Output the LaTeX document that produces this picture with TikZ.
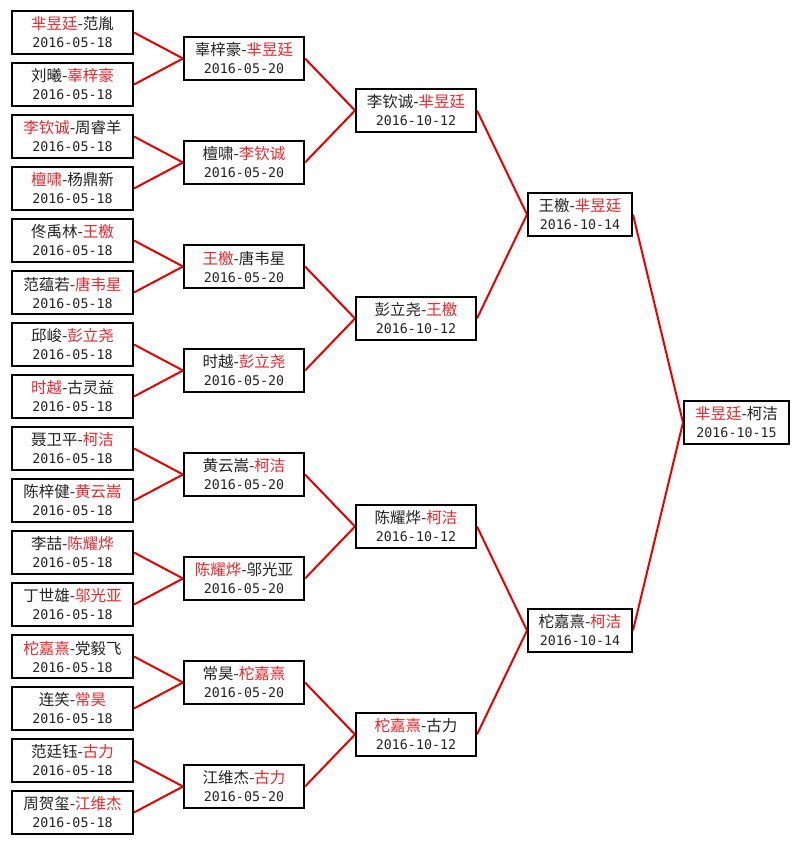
\documentclass[tikz,border=0pt]{standalone}
\usepackage{fontspec}
\setmainfont{Noto Sans CJK SC}
\newfontfamily\datefont{DejaVu Sans Mono}
\usetikzlibrary{backgrounds}
\definecolor{win}{RGB}{228,40,44}
\definecolor{ink}{RGB}{35,35,35}
\definecolor{conn}{RGB}{232,0,0}
\newcommand{\w}[1]{\textcolor{win}{#1}}
\newcommand{\dd}[1]{{\datefont\fontsize{13.3}{18}\selectfont #1}}
\begin{document}
\begin{tikzpicture}[x=1pt,y=-1pt,
  match/.style={draw=black, line width=2pt, fill=white, inner sep=0pt,
    minimum height=43pt, align=center, text=ink,
    font=\fontsize{15.5}{18}\selectfont},
  ca/.style={match, minimum width=121pt},
  cb/.style={match, minimum width=120pt},
  cc/.style={match, minimum width=120pt},
  cd/.style={match, minimum width=104pt},
  ce/.style={match, minimum width=105pt},
  link/.style={draw=conn, line width=2pt}]
\useasboundingbox (0,0) rectangle (800,845);
% round 1
\node[ca] (a1)  at (72.5, 32.5) {\w{芈昱廷}-范胤\\\dd{2016-05-18}};
\node[ca] (a2)  at (72.5, 84.5) {刘曦-\w{辜梓豪}\\\dd{2016-05-18}};
\node[ca] (a3)  at (72.5,136.5) {\w{李钦诚}-周睿羊\\\dd{2016-05-18}};
\node[ca] (a4)  at (72.5,188.5) {\w{檀啸}-杨鼎新\\\dd{2016-05-18}};
\node[ca] (a5)  at (72.5,240.5) {佟禹林-\w{王檄}\\\dd{2016-05-18}};
\node[ca] (a6)  at (72.5,292.5) {范蕴若-\w{唐韦星}\\\dd{2016-05-18}};
\node[ca] (a7)  at (72.5,344.5) {邱峻-\w{彭立尧}\\\dd{2016-05-18}};
\node[ca] (a8)  at (72.5,396.5) {\w{时越}-古灵益\\\dd{2016-05-18}};
\node[ca] (a9)  at (72.5,448.5) {聂卫平-\w{柯洁}\\\dd{2016-05-18}};
\node[ca] (a10) at (72.5,500.5) {陈梓健-\w{黄云嵩}\\\dd{2016-05-18}};
\node[ca] (a11) at (72.5,552.5) {李喆-\w{陈耀烨}\\\dd{2016-05-18}};
\node[ca] (a12) at (72.5,604.5) {丁世雄-\w{邬光亚}\\\dd{2016-05-18}};
\node[ca] (a13) at (72.5,656.5) {\w{柁嘉熹}-党毅飞\\\dd{2016-05-18}};
\node[ca] (a14) at (72.5,708.5) {连笑-\w{常昊}\\\dd{2016-05-18}};
\node[ca] (a15) at (72.5,760.5) {范廷钰-\w{古力}\\\dd{2016-05-18}};
\node[ca] (a16) at (72.5,812.5) {周贺玺-\w{江维杰}\\\dd{2016-05-18}};
% round 2
\node[cb] (b1) at (244, 58.5) {辜梓豪-\w{芈昱廷}\\\dd{2016-05-20}};
\node[cb] (b2) at (244,162.5) {檀啸-\w{李钦诚}\\\dd{2016-05-20}};
\node[cb] (b3) at (244,266.5) {\w{王檄}-唐韦星\\\dd{2016-05-20}};
\node[cb] (b4) at (244,370.5) {时越-\w{彭立尧}\\\dd{2016-05-20}};
\node[cb] (b5) at (244,474.5) {黄云嵩-\w{柯洁}\\\dd{2016-05-20}};
\node[cb] (b6) at (244,578.5) {\w{陈耀烨}-邬光亚\\\dd{2016-05-20}};
\node[cb] (b7) at (244,682.5) {常昊-\w{柁嘉熹}\\\dd{2016-05-20}};
\node[cb] (b8) at (244,786.5) {江维杰-\w{古力}\\\dd{2016-05-20}};
% round 3
\node[cc] (c1) at (416,110.5) {李钦诚-\w{芈昱廷}\\\dd{2016-10-12}};
\node[cc] (c2) at (416,318.5) {彭立尧-\w{王檄}\\\dd{2016-10-12}};
\node[cc] (c3) at (416,526.5) {陈耀烨-\w{柯洁}\\\dd{2016-10-12}};
\node[cc] (c4) at (416,734.5) {\w{柁嘉熹}-古力\\\dd{2016-10-12}};
% semifinal
\node[cd] (d1) at (580,214.5) {王檄-\w{芈昱廷}\\\dd{2016-10-14}};
\node[cd] (d2) at (580,630.5) {柁嘉熹-\w{柯洁}\\\dd{2016-10-14}};
% final
\node[ce] (e1) at (736.5,422.5) {\w{芈昱廷}-柯洁\\\dd{2016-10-15}};
\begin{scope}[on background layer]
\foreach \i/\p in {1/1,2/1,3/2,4/2,5/3,6/3,7/4,8/4,9/5,10/5,11/6,12/6,13/7,14/7,15/8,16/8}
  \draw[link] (a\i.east) -- (b\p.west);
\foreach \i/\p in {1/1,2/1,3/2,4/2,5/3,6/3,7/4,8/4}
  \draw[link] (b\i.east) -- (c\p.west);
\foreach \i/\p in {1/1,2/1,3/2,4/2}
  \draw[link] (c\i.east) -- (d\p.west);
\foreach \i in {1,2}
  \draw[link] (d\i.east) -- (e1.west);
\end{scope}
\end{tikzpicture}
\end{document}
